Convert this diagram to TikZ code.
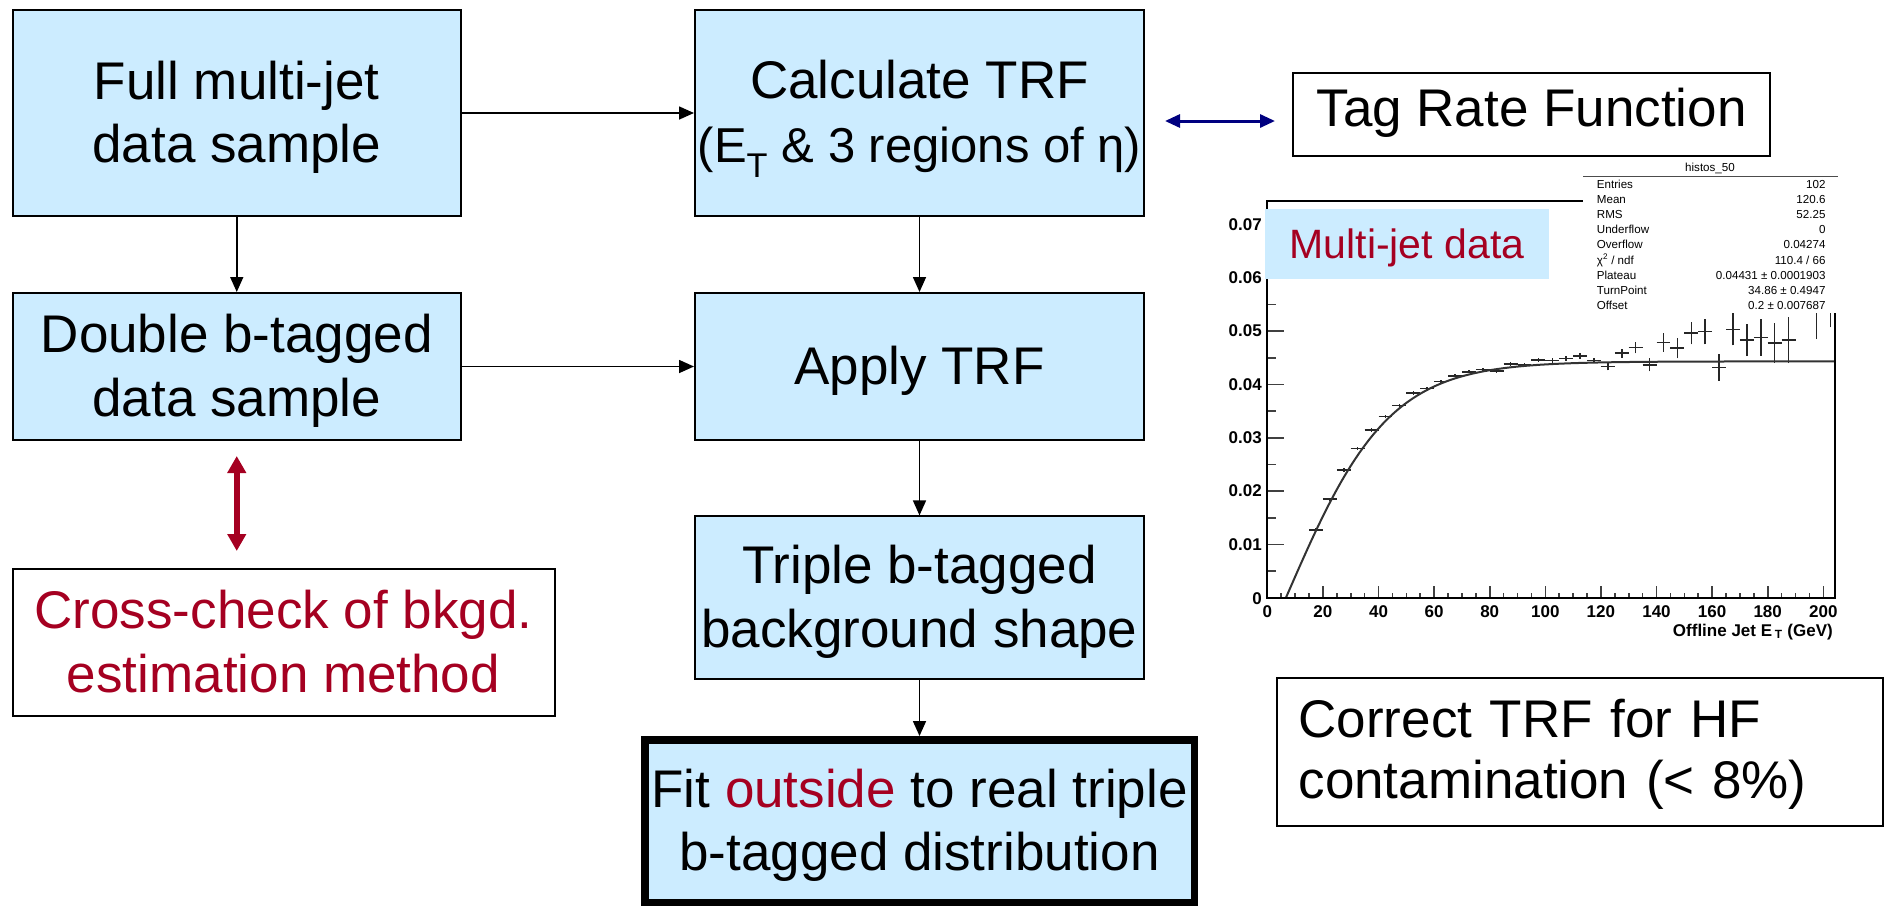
\documentclass[tikz,border=0pt]{standalone}
\usepackage{fontspec}
\setmainfont{Liberation Sans}
\usetikzlibrary{arrows.meta}
\definecolor{boxblue}{RGB}{204,236,255}
\definecolor{darkred}{RGB}{165,0,33}
\definecolor{navyblue}{RGB}{0,0,128}
% box lettering: fixed line pitch given by the struts alone
\newcommand\boxfont{\fontsize{53}{0}\selectfont\lineskip=0pt\lineskiplimit=0pt}
\newcommand\lnstrut{\rule[-14pt]{0pt}{63.5pt}}
\newcommand\statfont{\fontsize{11.6}{0}\selectfont}
\newcommand\ticklabfont{\fontsize{17}{0}\selectfont\bfseries}
% one line of the statistics panel
\newcommand\statrow[3]{%
  \node[statlab] (sl#1) at (1596.7,{188.3+15.17*#1}) {#2};
  \node[statval] (sv#1) at (1825.7,{188.3+15.17*#1}) {#3};}
\begin{document}
\begin{tikzpicture}[x=1pt,y=-1pt,
  procbox/.style={draw=black,line width=2pt,fill=boxblue,inner sep=0pt,align=center,font=\boxfont},
  notebox/.style={draw=black,line width=2pt,fill=white,inner sep=0pt,align=center,font=\boxfont},
  flow/.style={draw=black,line width=1.6pt,-{Triangle[length=15pt,width=13pt]}},
  crossarrow/.style={draw=darkred,line width=6pt,{Triangle[length=17pt,width=18pt]}-{Triangle[length=17pt,width=18pt]}},
  navyarrow/.style={draw=navyblue,line width=3pt,{Triangle[length=15pt,width=13pt]}-{Triangle[length=15pt,width=13pt]}},
  axisline/.style={draw=black,line width=2pt},
  tickline/.style={draw=black!75,line width=1.6pt},
  ticklab/.style={inner sep=0pt,font=\ticklabfont},
  errbar/.style={draw=black!85,line width=1.5pt},
  fitline/.style={draw=black!80,line width=2pt},
  statlab/.style={inner sep=0pt,anchor=base west,font=\statfont},
  statval/.style={inner sep=0pt,anchor=base east,font=\statfont}]
\useasboundingbox (0,0) rectangle (1886,906);
\fill[white] (0,0) rectangle (1886,906);

% ---------------- flow chart ----------------
\node[procbox,minimum width=448.5pt,minimum height=206pt] (full) at (236.75,113)
  {\lnstrut Full multi-jet\\\lnstrut data sample};
\node[procbox,minimum width=448.5pt,minimum height=147pt] (dbl) at (236.75,366.5)
  {\lnstrut Double b-tagged\\\lnstrut data sample};
\node[procbox,minimum width=449pt,minimum height=206pt] (calc) at (919.5,113)
  {\rule[-14pt]{0pt}{63.5pt}Calculate TRF\\
   {\fontsize{49}{0}\selectfont\rule[-6.1pt]{0pt}{56.1pt}(E\textsubscript{T} \& 3 regions of η)}};
\node[procbox,minimum width=449pt,minimum height=147pt] (apply) at (919.5,366.5)
  {\lnstrut Apply TRF};
\node[procbox,minimum width=449pt,minimum height=162.6pt] (triple) at (919.5,597.7)
  {\lnstrut Triple b-tagged\\\lnstrut background shape};
\node[procbox,line width=7.5pt,minimum width=549.5pt,minimum height=162.5pt] (fit) at (919.5,821)
  {\lnstrut Fit \textcolor{darkred}{outside} to real triple\\\lnstrut b-tagged distribution};
\node[notebox,text=darkred,minimum width=542pt,minimum height=147pt] (xchk) at (283.5,642.5)
  {\lnstrut Cross-check of bkgd.\\\lnstrut estimation method};
\node[notebox,minimum width=477pt,minimum height=82.4pt] (trf) at (1531.5,114.5)
  {\rule[-15.6pt]{0pt}{55.6pt}Tag Rate Function};
\node[notebox,align=left,text width=563pt,inner xsep=21.5pt,minimum width=606pt,minimum height=148pt] (corr) at (1580,752)
  {\rule[-15pt]{0pt}{61pt}Correct TRF for HF\\\rule[-15pt]{0pt}{61pt}contamination (< 8\%)};

\draw[flow] (full) -- (calc);
\draw[flow] (dbl) -- (apply);
\draw[flow] (full) -- (dbl);
\draw[flow] (calc) -- (apply);
\draw[flow] (apply) -- (triple);
\draw[flow] (triple) -- (fit);
\draw[crossarrow] ([yshift=-15pt]dbl.south) -- ([yshift=17pt]dbl.south |- xchk.north);
\draw[navyarrow] ([xshift=20pt,yshift=-8pt]calc.east) -- ([xshift=-17pt,yshift=-6.5pt]trf.west);

% ---------------- tag rate histogram ----------------
\begin{scope}[shift={(1267.3,597.7)},x=2.78pt,y=5.333pt]
  % ticks on the y axis
  \foreach \v in {5,15,...,65} \draw[tickline] (0,\v) -- ++(8.7pt,0);
  \foreach \v in {0,10,...,70} \draw[tickline] (0,\v) -- ++(17pt,0);
  \foreach \v/\t in {10/0.01,20/0.02,30/0.03,40/0.04,50/0.05,60/0.06,70/0.07}
    \node[ticklab,anchor=east,xshift=-5.3pt] (ylab\v) at (0,\v) {\t};
  \node[ticklab,anchor=east,xshift=-5.3pt,yshift=-1pt] (ylab0) at (0,0) {0};
  % ticks on the x axis
  \foreach \e in {5,10,...,200} \draw[tickline] (\e,0) -- ++(0,5pt);
  \foreach \e in {0,20,...,200} {
    \draw[tickline] (\e,0) -- ++(0,11.5pt);
    \node[ticklab,anchor=north,yshift=-7.3pt] (xlab\e) at (\e,0) {\e};
  }
  % measured rates with errors
  \foreach \e/\v/\er in {17.5/12.73/0.3,22.5/18.47/0.3,27.5/23.95/0.3,32.5/28.0/0.3,
      37.5/31.44/0.3,42.5/33.94/0.3,47.5/36.0/0.3,52.5/38.37/0.3,57.5/39.2/0.3,
      62.5/40.5/0.3,67.5/41.6/0.3,72.5/42.36/0.3,77.5/42.8/0.3,82.5/42.5/0.3,
      87.5/43.86/0.35,92.5/43.67/0.35,97.5/44.6/0.4,102.5/44.48/0.4,107.5/44.9/0.45,
      112.5/45.35/0.5,117.5/44.5/0.5,122.5/43.36/0.75,127.5/45.85/0.85,132.5/46.9/1.1,
      137.5/43.67/1.25,142.5/47.85/1.7,147.5/46.8/1.9,152.5/49.6/2.1,157.5/49.9/2.4,
      162.5/43.17/2.5,167.5/50.3/3.0,172.5/48.3/3.0,177.5/48.8/3.4,182.5/47.8/3.7,
      187.5/48.3/4.3,197.5/54/5.5,202.5/56/5.3} {
    \draw[errbar] (\e-2.5,\v) -- (\e+2.5,\v);
    \draw[errbar] (\e,\v-\er) -- (\e,\v+\er);
  }
  % turn-on fit
  \draw[fitline] plot[domain=6.7:204.3,samples=120,smooth] (\x,{44.31*tanh((\x-6.7)/37)});
  % frame
  \draw[axisline] (0,74.44) -- (0,0) -- (204.3,0) -- (204.3,74.44) -- cycle;
\end{scope}
\node[ticklab,anchor=base east] (xtitle) at (1833,636) {Offline Jet E\,\textsubscript{T} (GeV)};

% statistics panel
\fill[white] (1583,177.5) rectangle (1840,313.3);
\draw[black!70,line width=1pt] (1583,176.7) -- (1838,176.7);
\node[inner sep=0pt,anchor=base,font=\statfont] (htitle) at (1710,171.5) {histos\_50};
\statrow{0}{Entries}{102}
\statrow{1}{Mean}{120.6}
\statrow{2}{RMS}{52.25}
\statrow{3}{Underflow}{0}
\statrow{4}{Overflow}{0.04274}
\statrow{5}{χ\textsuperscript{2} / ndf}{110.4 / 66}
\statrow{6}{Plateau}{0.04431 ± 0.0001903}
\statrow{7}{TurnPoint}{34.86 ± 0.4947}
\statrow{8}{Offset}{0.2 ± 0.007687}

% sample label
\node[fill=boxblue,inner sep=0pt,minimum width=284pt,minimum height=70pt,text=darkred,
      font=\fontsize{41}{0}\selectfont] (mjlabel) at (1407,244)
  {\rule[-4.6pt]{0pt}{42.6pt}Multi-jet data};
\end{tikzpicture}
\end{document}
